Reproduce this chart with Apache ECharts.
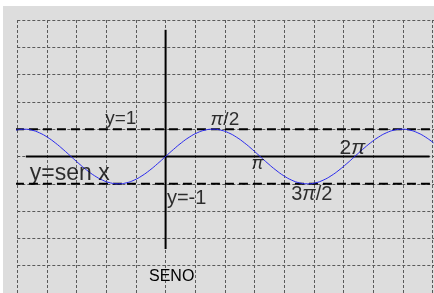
<!DOCTYPE html>
<html>
<head>
<meta charset="utf-8">
<script src="https://cdn.jsdelivr.net/npm/echarts@6/dist/echarts.min.js"></script>
<style>
  html, body { margin: 0; padding: 0; background: #fff; }
  #main { width: 434px; height: 293px; }
</style>
</head>
<body>
<div id="main"></div>
<script>
// curve samples, angle in degrees -> y
var angles = [-285, -270, -255, -240, -225, -210, -195, -180, -165, -150, -135, -120, -105, -90,
  -75, -60, -45, -30, -15, 0, 15, 30, 45, 60, 75, 90, 105, 120, 135, 150, 165, 180,
  195, 210, 225, 240, 255, 270, 285, 300, 315, 330, 345, 360, 375, 390, 405, 420, 435,
  450, 465, 480, 495, 510];
var senValues = [0.966, 1, 0.966, 0.866, 0.707, 0.5, 0.259, 0, -0.259, -0.5, -0.707, -0.866, -0.966, -1,
  -0.966, -0.866, -0.707, -0.5, -0.259, 0, 0.259, 0.5, 0.707, 0.866, 0.966, 1, 0.966, 0.866, 0.707, 0.5, 0.259, 0,
  -0.259, -0.5, -0.707, -0.866, -0.966, -1, -0.966, -0.866, -0.707, -0.5, -0.259, 0, 0.259, 0.5, 0.707, 0.866, 0.966,
  1, 0.966, 0.866, 0.707, 0.5];

// guide lines (grid units)
var xAxisLine = [[-4.71, 0], [8.9, 0]];
var yAxisLine = [[0, 4.64], [0, -3.39]];
var lineTop = [[-5.08, 1], [8.94, 1]];
var lineBottom = [[-5.08, -1], [8.94, -1]];

// text labels and where they sit
var labelTexts = ['y=1', '{p|π}/2', '{p|π}', '2{p|π}', '3{p|π}/2', 'y=-1', 'y=sen x'];
var labelPos = [[-1.51, 1.39], [2.0, 1.36], [3.1, -0.26], [6.3, 0.3], [4.93, -1.39], [0.71, -1.53], [-3.23, -0.62]];
var labelSizes = [19, 19, 18, 21, 20, 20, 23];

var X_PER_RAD = 1.015; // picture: one radian is a bit wider than one grid cell

var chart = echarts.init(document.getElementById('main'));

var curve = angles.map(function (a, i) {
  return [a * Math.PI / 180 * X_PER_RAD, senValues[i]];
});

var labelData = labelTexts.map(function (t, i) {
  return {
    value: labelPos[i],
    label: { formatter: t, fontSize: labelSizes[i], rich: { p: { fontStyle: 'italic', fontSize: labelSizes[i], fontFamily: 'Liberation Sans' } } }
  };
});

function guide(data, style) {
  return {
    type: 'line', data: data, symbol: 'none', clip: false, silent: true,
    lineStyle: style, z: 3
  };
}

chart.setOption({
  backgroundColor: '#ffffff',
  animation: false,
  title: {
    text: 'SENO', left: 144, top: 264,
    textStyle: { fontSize: 16, fontWeight: 'normal', color: '#000', fontFamily: 'Liberation Sans' }
  },
  graphic: [{
    type: 'rect', z: -10, silent: true,
    shape: { x: 3, y: 6, width: 431, height: 287 },
    style: { fill: '#dddddd' }
  }],
  grid: { left: 17.3, top: 20, right: 0, bottom: -1 },
  xAxis: {
    type: 'value', min: -5, max: 9.05, interval: 1,
    axisLine: { show: false }, axisTick: { show: false }, axisLabel: { show: false },
    splitLine: { show: true, lineStyle: { color: '#5a5a5a', width: 1, type: [3, 2] } }
  },
  yAxis: {
    type: 'value', min: -5, max: 5, interval: 1,
    axisLine: { show: false }, axisTick: { show: false }, axisLabel: { show: false },
    splitLine: { show: true, lineStyle: { color: '#5a5a5a', width: 1, type: [3, 2] } }
  },
  series: [
    guide(xAxisLine, { color: '#000', width: 2 }),
    guide(yAxisLine, { color: '#000', width: 2 }),
    guide(lineTop, { color: '#000', width: 2, type: [9, 5] }),
    guide(lineBottom, { color: '#000', width: 2, type: [9, 5] }),
    {
      type: 'line', data: curve, symbol: 'none', smooth: true, clip: false, silent: true,
      lineStyle: { color: '#2a2aee', width: 1 }, z: 4
    },
    {
      type: 'scatter', data: labelData, symbolSize: 0, silent: true, z: 5,
      label: {
        show: true, position: 'inside', align: 'center', verticalAlign: 'middle',
        color: '#000', fontFamily: 'Liberation Sans'
      }
    }
  ]
});
</script>
</body>
</html>
